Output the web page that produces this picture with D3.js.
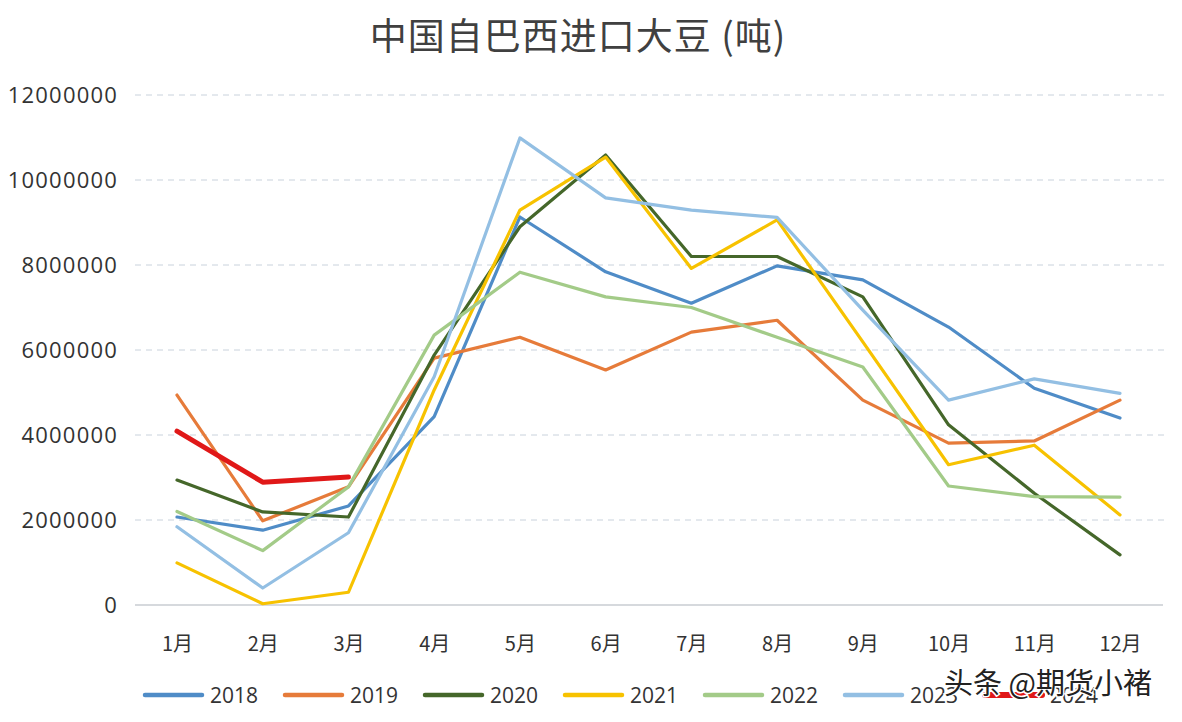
<!DOCTYPE html>
<html><head><meta charset="utf-8">
<script src="https://cdn.jsdelivr.net/npm/d3@7"></script>
<style>body{margin:0;background:#fff;}svg{display:block;}</style>
</head><body><svg id="c" width="1182" height="722"></svg>
<script>
const months = ["1月","2月","3月","4月","5月","6月","7月","8月","9月","10月","11月","12月"];
const yTicks = [0,2000000,4000000,6000000,8000000,10000000,12000000];
const s2018 = [2070000,1760000,2330000,4430000,9130000,7840000,7100000,7980000,7650000,6540000,5100000,4400000];
const s2019 = [4940000,1980000,2780000,5810000,6300000,5530000,6420000,6700000,4820000,3810000,3860000,4820000];
const s2020 = [2940000,2190000,2070000,5880000,8900000,10590000,8200000,8200000,7250000,4240000,2630000,1180000];
const s2021 = [990000,30000,300000,5060000,9290000,10540000,7920000,9060000,6190000,3300000,3760000,2120000];
const s2022 = [2200000,1280000,2780000,6350000,7830000,7250000,7000000,6300000,5600000,2800000,2550000,2540000];
const s2023 = [1840000,400000,1700000,5370000,10990000,9580000,9290000,9120000,6940000,4820000,5320000,4980000];
const s2024 = [4090000,2890000,3010000];
const seriesNames = ["2018","2019","2020","2021","2022","2023","2024"];
const seriesData = [s2018,s2019,s2020,s2021,s2022,s2023,s2024];
const colors = ["#4f8cc7","#e67b3a","#45672a","#f7c200","#a3cb88","#93bfe3","#e01818"];
const widths = [3.2,3.2,3.2,3.2,3.2,3.2,5];

const svg = d3.select("#c");
const x = d3.scalePoint().domain(months).range([177,1120]);
const y = d3.scaleLinear().domain([0,12000000]).range([605,95]);

svg.append("text").attr("x",578).attr("y",50).attr("text-anchor","middle")
  .attr("font-family","'Noto Sans CJK SC'").attr("font-size",37).attr("letter-spacing","1px")
  .attr("fill","#404040")
  .text("中国自巴西进口大豆 (吨)");

// grid
svg.append("g").selectAll("line").data(yTicks.filter(d=>d>0)).join("line")
  .attr("x1",135).attr("x2",1165).attr("y1",d=>y(d)).attr("y2",d=>y(d))
  .attr("stroke","#c9d2dc").attr("stroke-width",1).attr("stroke-dasharray","6,5");
svg.append("line").attr("x1",135).attr("x2",1163).attr("y1",y(0)).attr("y2",y(0))
  .attr("stroke","#c8ccd2").attr("stroke-width",1.5);

// y axis labels
const ya = svg.append("g").attr("transform","translate(118,0)")
  .call(d3.axisLeft(y).tickValues(yTicks).tickSize(0).tickPadding(0).tickFormat(d3.format("d")));
ya.select(".domain").remove();
ya.selectAll("text").attr("font-family","'Open Sans'").attr("font-size",22)
  .attr("letter-spacing","1.2px").attr("fill","#333");

// x axis labels
const xa = svg.append("g").attr("transform","translate(0,605)")
  .call(d3.axisBottom(x).tickSize(0).tickPadding(32));
xa.select(".domain").remove();
xa.selectAll("text").attr("font-family","'Noto Sans CJK SC'").attr("font-size",20).attr("fill","#333");

const line = d3.line().x((d,i)=>x(months[i])).y(d=>y(d));
seriesData.forEach((s,k)=>{
  svg.append("path").datum(s).attr("d",line).attr("fill","none")
    .attr("stroke",colors[k]).attr("stroke-width",widths[k])
    .attr("stroke-linejoin","round").attr("stroke-linecap","round");
});

// legend
const lg = svg.append("g");
seriesNames.forEach((n,k)=>{
  const lx = 145 + k*140;
  lg.append("line").attr("x1",lx).attr("x2",lx+57).attr("y1",695).attr("y2",695)
    .attr("stroke",colors[k]).attr("stroke-width",k===6?6:4.5).attr("stroke-linecap","round");
  lg.append("text").attr("x",lx+65).attr("y",703).attr("font-family","'Open Sans'")
    .attr("font-size",21).attr("fill","#333").text(n);
});

// watermark
svg.append("text").attr("x",944).attr("y",694).attr("font-family","'Noto Sans CJK SC'")
  .attr("font-size",29).attr("fill","#222").attr("stroke","#fff").attr("stroke-width",3)
  .attr("paint-order","stroke").text("头条 @期货小褚");
</script></body></html>
